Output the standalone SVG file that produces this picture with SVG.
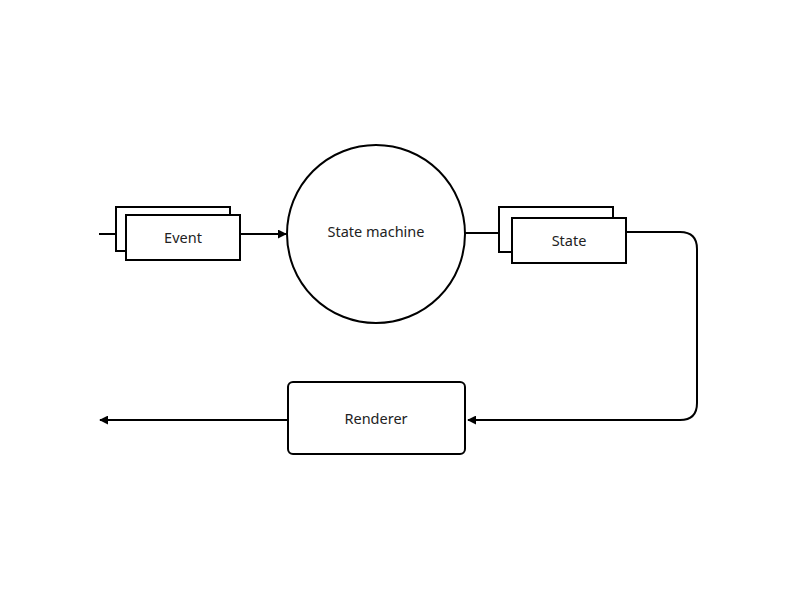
<svg xmlns="http://www.w3.org/2000/svg" width="800" height="600" viewBox="0 0 800 600">
<defs>
<style>
.box{fill:#fff;stroke:#000;stroke-width:2}
.ln{fill:none;stroke:#000;stroke-width:2}
.t{font-family:"Noto Sans","Open Sans",sans-serif;font-size:14.5px;fill:#222;text-anchor:middle;dominant-baseline:central}
</style>
<marker id="ah" viewBox="0 0 10 10" refX="9" refY="5" markerWidth="4.5" markerHeight="4.5" orient="auto-start-reverse">
<path d="M0,0 L10,5 L0,10 z" fill="#000"/>
</marker>
</defs>
<rect width="800" height="600" fill="#fff"/>
<g id="connectors">
<path class="ln" d="M99,234 H116"/>
<path class="ln" d="M240,234 H286" marker-end="url(#ah)"/>
<path class="ln" d="M465,233 H499"/>
<path class="ln" d="M626,232 H680 Q697,232 697,249 V403 Q697,420 680,420 H468" marker-end="url(#ah)"/>
<path class="ln" d="M288,420 H100" marker-end="url(#ah)"/>
</g>
<g id="event">
<rect class="box" x="116" y="207" width="114" height="44"/>
<rect class="box" x="126" y="215" width="114" height="45"/>
<text class="t" x="183" y="237">Event</text>
</g>
<g id="state-machine">
<circle class="box" cx="376" cy="234" r="89"/>
<text class="t" x="376" y="231">State machine</text>
</g>
<g id="state">
<rect class="box" x="499" y="207" width="114" height="45"/>
<rect class="box" x="512" y="218" width="114" height="45"/>
<text class="t" x="569" y="240">State</text>
</g>
<g id="renderer">
<rect class="box" x="288" y="382" width="177" height="72" rx="5"/>
<text class="t" x="376" y="418">Renderer</text>
</g>
</svg>
